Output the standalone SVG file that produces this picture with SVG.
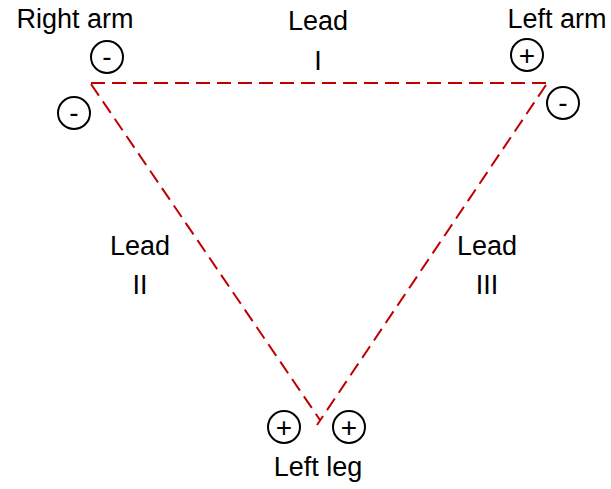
<svg xmlns="http://www.w3.org/2000/svg" width="611" height="489" viewBox="0 0 611 489">
<style>
.t{font-family:"Liberation Sans",Arial,sans-serif;font-size:27px;fill:#000;text-anchor:middle}
.c{fill:#fff;stroke:#000;stroke-width:2}
.s{font-family:"Liberation Sans",Arial,sans-serif;font-size:28px;fill:#000;text-anchor:middle}
.l{stroke:#C00000;stroke-width:2;stroke-dasharray:14,7;fill:none}
</style>
<rect width="611" height="489" fill="#fff"/>
<g id="connectors">
<line class="l" x1="91" y1="83" x2="546" y2="83"/>
<line class="l" x1="91" y1="84" x2="320" y2="420"/>
<line class="l" x1="546" y1="85" x2="317" y2="425"/>
</g>
<g id="right-arm">
<text class="t" x="75" y="28">Right arm</text>
<circle class="c" cx="107" cy="57" r="16"/><text class="s" x="107" y="66">-</text>
<circle class="c" cx="74" cy="113" r="16"/><text class="s" x="74" y="122">-</text>
</g>
<g id="left-arm">
<text class="t" x="557" y="28">Left arm</text>
<circle class="c" cx="527" cy="55" r="16"/><text class="s" x="527" y="65">+</text>
<circle class="c" cx="563" cy="103" r="16"/><text class="s" x="563" y="112">-</text>
</g>
<g id="left-leg">
<circle class="c" cx="284" cy="427" r="16"/><text class="s" x="284" y="437">+</text>
<circle class="c" cx="349" cy="427" r="16"/><text class="s" x="349" y="437">+</text>
<text class="t" x="318" y="476">Left leg</text>
</g>
<g id="lead-I"><text class="t" x="318" y="30">Lead</text><text class="t" x="318" y="70">I</text></g>
<g id="lead-II"><text class="t" x="140" y="255">Lead</text><text class="t" x="140" y="294">II</text></g>
<g id="lead-III"><text class="t" x="487" y="255">Lead</text><text class="t" x="487" y="294">III</text></g>
</svg>
